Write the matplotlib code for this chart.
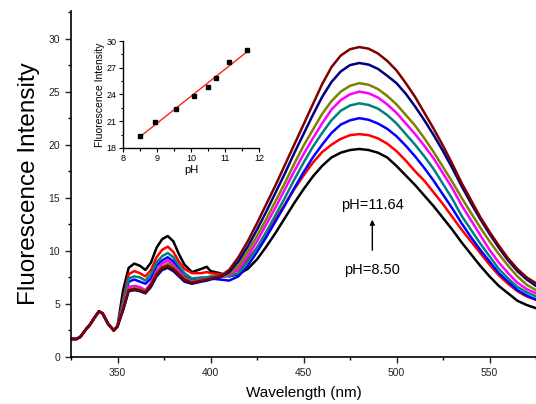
import matplotlib
matplotlib.use('Agg')
import matplotlib.pyplot as plt
from matplotlib.ticker import MultipleLocator
import numpy as np

plt.rcParams['font.family'] = ['Liberation Sans', 'DejaVu Sans']

# ---------------- data ----------------
wavelength = [325, 328, 330, 333, 335, 338, 340, 342, 345, 348, 350,
              353, 356, 359, 362, 365, 368, 371, 374, 377, 380, 383, 386,
              390, 395, 398, 400, 405, 410,
              415, 420, 425, 430, 435, 440, 445, 450, 455, 460, 465, 470,
              475, 480, 485, 490, 495, 500, 505, 510, 515, 520, 525, 530,
              535, 540, 545, 550, 555, 560, 565, 570, 575]

common_start = [1.7, 1.7, 1.9, 2.6, 3.0, 3.8, 4.3, 4.1, 3.1, 2.5, 2.9]

ph_850 = common_start + [
    6.3, 8.4, 8.8, 8.6, 8.2, 8.9, 10.3, 11.1, 11.4, 10.9, 9.7, 8.7,
    8.0, 8.3, 8.5, 8.1, 7.9, 7.6,
    7.8, 8.3, 9.2, 10.4, 11.7, 13.1, 14.5, 15.8, 17.0, 18.0, 18.8, 19.25,
    19.5, 19.6, 19.5, 19.25, 18.8, 18.0, 17.1, 16.2, 15.2, 14.2, 13.1, 12.0,
    10.8, 9.7, 8.6, 7.6, 6.7, 6.0, 5.3, 4.9, 4.6]
ph_895 = common_start + [
    5.4, 7.8, 8.1, 7.9, 7.6, 8.2, 9.4, 10.1, 10.4, 9.9, 9.0, 8.3,
    7.9, 7.9, 8.0, 7.9, 7.8, 7.8,
    8.2, 9.2, 10.3, 11.6, 13.0, 14.4, 15.8, 17.1, 18.3, 19.3, 20.0, 20.55,
    20.9, 21.0, 20.9, 20.6, 20.1, 19.4, 18.5, 17.5, 16.6, 15.5, 14.4, 13.2,
    12.0, 10.9, 9.8, 8.7, 7.7, 6.9, 6.2, 5.7, 5.4]
ph_957 = common_start + [
    4.9, 7.1, 7.3, 7.1, 6.9, 7.4, 8.6, 9.1, 9.4, 9.0, 8.3, 7.6,
    7.2, 7.3, 7.3, 7.4, 7.3, 7.2,
    7.6, 8.6, 9.9, 11.3, 12.8, 14.3, 15.9, 17.4, 18.8, 20.0, 21.1, 21.9,
    22.3, 22.5, 22.35, 22.0, 21.5, 20.8, 19.9, 18.9, 17.8, 16.6, 15.3, 14.0,
    12.6, 11.3, 10.1, 9.0, 7.9, 7.1, 6.3, 5.8, 5.4]
ph_1010 = common_start + [
    5.1, 7.4, 7.6, 7.5, 7.2, 7.8, 8.9, 9.5, 9.8, 9.4, 8.6, 7.9,
    7.4, 7.5, 7.5, 7.6, 7.6, 7.6,
    7.9, 9.0, 10.3, 11.8, 13.4, 15.0, 16.7, 18.3, 19.8, 21.1, 22.3, 23.2,
    23.7, 23.9, 23.75, 23.4, 22.8, 22.0, 21.0, 20.0, 18.9, 17.7, 16.3, 14.9,
    13.3, 12.0, 10.7, 9.5, 8.3, 7.4, 6.6, 6.1, 5.7]
ph_1050 = common_start + [
    4.6, 6.6, 6.7, 6.6, 6.3, 7.0, 8.1, 8.8, 9.1, 8.7, 8.1, 7.5,
    7.1, 7.3, 7.3, 7.4, 7.5, 7.7,
    8.3, 9.5, 10.9, 12.5, 14.1, 15.8, 17.5, 19.1, 20.6, 22.0, 23.3, 24.2,
    24.75, 25.0, 24.85, 24.45, 23.8, 23.0, 22.0, 21.0, 19.9, 18.7, 17.3, 15.9,
    14.3, 12.9, 11.5, 10.1, 8.9, 7.9, 7.0, 6.4, 6.0]
ph_1073 = common_start + [
    4.5, 6.4, 6.5, 6.4, 6.2, 6.8, 7.9, 8.5, 8.8, 8.5, 7.9, 7.4,
    7.1, 7.2, 7.3, 7.4, 7.5, 7.8,
    8.6, 9.9, 11.4, 13.0, 14.7, 16.4, 18.2, 19.9, 21.4, 22.9, 24.1, 25.0,
    25.55, 25.8, 25.65, 25.25, 24.6, 23.8, 22.8, 21.8, 20.6, 19.3, 17.9, 16.5,
    15.0, 13.6, 12.2, 10.9, 9.7, 8.6, 7.6, 6.8, 6.3]
ph_1113 = common_start + [
    4.4, 6.2, 6.3, 6.2, 6.0, 6.6, 7.6, 8.2, 8.4, 8.1, 7.6, 7.1,
    6.9, 7.1, 7.2, 7.3, 7.5, 8.0,
    9.0, 10.4, 12.0, 13.7, 15.5, 17.3, 19.2, 21.0, 22.8, 24.5, 25.9, 26.9,
    27.5, 27.7, 27.55, 27.15, 26.5, 25.8, 24.8, 23.6, 22.3, 20.9, 19.4, 17.8,
    16.1, 14.5, 13.0, 11.6, 10.3, 9.1, 8.1, 7.3, 6.7]
ph_1164 = common_start + [
    4.5, 6.3, 6.4, 6.3, 6.1, 6.8, 7.8, 8.4, 8.6, 8.3, 7.8, 7.3,
    7.0, 7.2, 7.3, 7.4, 7.6, 8.2,
    9.4, 10.9, 12.6, 14.4, 16.2, 18.1, 20.0, 21.9, 23.8, 25.7, 27.3, 28.4,
    29.0, 29.2, 29.05, 28.6, 27.9, 27.0, 25.8, 24.5, 23.0, 21.5, 19.9, 18.2,
    16.4, 14.8, 13.2, 11.8, 10.5, 9.3, 8.3, 7.5, 6.95]

spectra = [ph_850, ph_895, ph_957, ph_1010, ph_1050, ph_1073, ph_1113, ph_1164]
colors = ['#000000', '#FF0000', '#0000FF', '#008080',
          '#FF00FF', '#808000', '#000080', '#800000']

inset_ph = [8.50, 8.95, 9.57, 10.10, 10.50, 10.73, 11.13, 11.64]
inset_intensity = [19.4, 20.9, 22.4, 23.8, 24.8, 25.8, 27.7, 29.0]

# ---------------- figure ----------------
fig = plt.figure(figsize=(5.36, 4.04), dpi=100)
ax = fig.add_axes([0.1325, 0.1163, 0.8675, 0.8565])

for y, c in zip(spectra, colors):
    ax.plot(wavelength, y, color=c, lw=1.8, solid_joinstyle='round')

ax.set_xlim(325, 575)
ax.set_ylim(0, 32.6)
ax.xaxis.set_major_locator(MultipleLocator(50))
ax.xaxis.set_minor_locator(MultipleLocator(25))
ax.yaxis.set_major_locator(MultipleLocator(5))
ax.yaxis.set_minor_locator(MultipleLocator(2.5))
for s in ['top', 'right']:
    ax.spines[s].set_visible(False)
for s in ['left', 'bottom']:
    ax.spines[s].set_linewidth(1.2)
ax.tick_params(which='major', direction='out', length=4.5, width=1.0,
               labelsize=7.5, colors='#222222', labelcolor='#222222')
ax.tick_params(which='minor', direction='out', length=2.5, width=1.0)
ax.set_xlabel('Wavelength (nm)', fontsize=11, labelpad=6)
ax.set_ylabel('Fluorescence Intensity', fontsize=17.5, labelpad=6)

ax.text(487, 14.3, 'pH=11.64', fontsize=10.5, ha='center', va='center')
ax.text(487, 8.2, 'pH=8.50', fontsize=10.5, ha='center', va='center')
ax.annotate('', xy=(487, 13.2), xytext=(487, 9.8),
            arrowprops=dict(arrowstyle='-|>', color='black', lw=1.0,
                            mutation_scale=7))

# ---------------- inset ----------------
ins = fig.add_axes([0.2295, 0.6337, 0.2537, 0.2648])
slope, intercept = np.polyfit(inset_ph, inset_intensity, 1)
fit_x = np.array([inset_ph[0], inset_ph[-1]])
ins.plot(fit_x, slope * fit_x + intercept, color='#FF2020', lw=1.0)
ins.plot(inset_ph, inset_intensity, 's', color='black', ms=2.5)
ins.set_xlim(8, 12)
ins.set_ylim(18, 30)
ins.xaxis.set_major_locator(MultipleLocator(1))
ins.xaxis.set_minor_locator(MultipleLocator(0.5))
ins.yaxis.set_major_locator(MultipleLocator(3))
ins.yaxis.set_minor_locator(MultipleLocator(1.5))
for s in ['top', 'right']:
    ins.spines[s].set_visible(False)
for s in ['left', 'bottom']:
    ins.spines[s].set_linewidth(1.0)
ins.tick_params(which='major', direction='out', length=3, width=0.8,
                labelsize=6.5, pad=1.5)
ins.tick_params(which='minor', direction='out', length=1.8, width=0.8)
ins.set_xlabel('pH', fontsize=8, labelpad=1)
ins.set_ylabel('Fluorescence Intensity', fontsize=7.5, labelpad=1)

fig.savefig('out.png', dpi=100)
